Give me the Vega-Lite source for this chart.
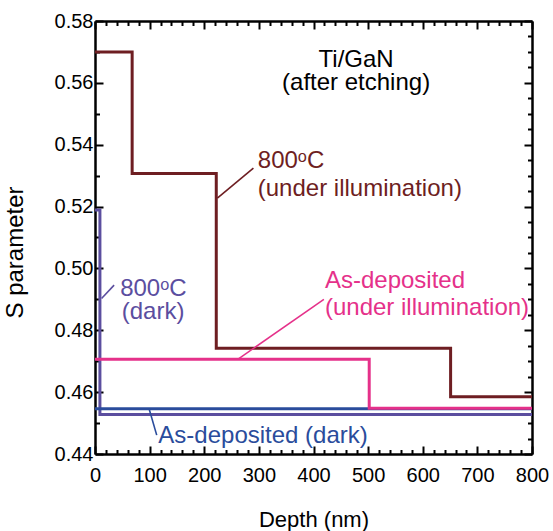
{
  "$schema": "https://vega.github.io/schema/vega-lite/v6.json",
  "autosize": "none",
  "width": 437,
  "height": 433,
  "padding": {"left": 95, "top": 21, "right": 21, "bottom": 77},
  "background": "white",
  "config": {
    "view": {"stroke": null},
    "font": "Liberation Sans",
    "axis": {"grid": false, "domainColor": "black", "domainWidth": 2.5, "tickColor": "black", "tickWidth": 2, "labelColor": "black", "titleColor": "black", "labelFont": "Liberation Sans", "titleFont": "Liberation Sans", "labelFontSize": 20, "titleFontSize": 22, "titleFontWeight": "normal"}
  },
  "datasets": {
    "series": [
      {"series": "a800dark", "depth": 0, "S": 0.5189},
      {"series": "a800dark", "depth": 9, "S": 0.4528},
      {"series": "a800dark", "depth": 800, "S": 0.4528},
      {"series": "asdepdark", "depth": 0, "S": 0.4546},
      {"series": "asdepdark", "depth": 800, "S": 0.4546},
      {"series": "asdepill", "depth": 0, "S": 0.4706},
      {"series": "asdepill", "depth": 502, "S": 0.4548},
      {"series": "asdepill", "depth": 800, "S": 0.4548},
      {"series": "a800ill", "depth": 0, "S": 0.5700},
      {"series": "a800ill", "depth": 68, "S": 0.5307},
      {"series": "a800ill", "depth": 222, "S": 0.4742},
      {"series": "a800ill", "depth": 651, "S": 0.4585},
      {"series": "a800ill", "depth": 800, "S": 0.4585}
    ],
    "leaders": [
      {"series": "a800ill", "x1": 290, "y1": 0.5324, "x2": 224, "y2": 0.5227},
      {"series": "asdepill", "x1": 419, "y1": 0.4900, "x2": 262, "y2": 0.4707},
      {"series": "a800dark", "x1": 35, "y1": 0.4946, "x2": 12, "y2": 0.4903},
      {"series": "asdepdark", "x1": 99, "y1": 0.4546, "x2": 113, "y2": 0.4461}
    ],
    "notes": [
      {"series": "a800ill", "x": 298, "y": 0.5326, "text": "800ᵒC"},
      {"series": "a800ill", "x": 298, "y": 0.5234, "text": "(under illumination)"},
      {"series": "asdepill", "x": 421, "y": 0.4936, "text": "As-deposited"},
      {"series": "asdepill", "x": 421, "y": 0.4849, "text": "(under illumination)"},
      {"series": "a800dark", "x": 46, "y": 0.4911, "text": "800ᵒC"},
      {"series": "a800dark", "x": 49, "y": 0.4837, "text": "(dark)"},
      {"series": "asdepdark", "x": 116, "y": 0.4435, "text": "As-deposited (dark)"}
    ],
    "heading": [
      {"x": 478, "y": 0.5652, "text": "Ti/GaN"},
      {"x": 478, "y": 0.5577, "text": "(after etching)"}
    ]
  },
  "resolve": {"axis": {"x": "independent", "y": "independent"}},
  "layer": [
    {
      "data": {"name": "series"},
      "mark": {"type": "line", "interpolate": "step-after", "strokeWidth": 3, "clip": true},
      "encoding": {
        "x": {"field": "depth", "type": "quantitative", "scale": {"domain": [0, 800], "nice": false, "zero": false},
          "axis": {"orient": "bottom", "title": "Depth (nm)", "values": [0,20,40,60,80,100,120,140,160,180,200,220,240,260,280,300,320,340,360,380,400,420,440,460,480,500,520,540,560,580,600,620,640,660,680,700,720,740,760,780,800],
            "labelExpr": "datum.value % 100 == 0 ? datum.label : ''", "tickSize": {"condition": {"test": "datum.value % 100 == 0", "value": -8}, "value": -4.5}, "labelPadding": 19, "titlePadding": 21, "labelFlush": false, "labelOverlap": false}},
        "y": {"field": "S", "type": "quantitative", "scale": {"domain": [0.44, 0.58], "nice": false, "zero": false},
          "axis": {"orient": "left", "title": "S parameter", "titleFontSize": 24, "titleY": 231, "values": [0.44,0.45,0.46,0.47,0.48,0.49,0.50,0.51,0.52,0.53,0.54,0.55,0.56,0.57,0.58], "format": ".2f",
            "labelExpr": "round(datum.value * 100) % 2 == 0 ? datum.label : ''", "tickSize": {"condition": {"test": "round(datum.value * 100) % 2 == 0", "value": -8}, "value": -4.5}, "labelPadding": 10, "titlePadding": 27, "labelFlush": false, "labelOverlap": false}},
        "color": {"field": "series", "type": "nominal", "scale": {"domain": ["a800ill", "asdepill", "a800dark", "asdepdark"], "range": ["#6e1e22", "#e5318a", "#5b4e9f", "#2a4c9c"]}, "legend": null},
        "order": {"field": "depth"},
        "detail": {"field": "series"}
      }
    },
    {
      "data": {"name": "series"},
      "mark": {"type": "point", "opacity": 0},
      "encoding": {
        "x": {"field": "depth", "type": "quantitative",
          "axis": {"orient": "top", "title": null, "labels": false, "values": [0,20,40,60,80,100,120,140,160,180,200,220,240,260,280,300,320,340,360,380,400,420,440,460,480,500,520,540,560,580,600,620,640,660,680,700,720,740,760,780,800],
            "tickSize": {"condition": {"test": "datum.value % 100 == 0", "value": -8}, "value": -4.5}}},
        "y": {"field": "S", "type": "quantitative",
          "axis": {"orient": "right", "title": null, "labels": false, "values": [0.44,0.445,0.45,0.455,0.46,0.465,0.47,0.475,0.48,0.485,0.49,0.495,0.50,0.505,0.51,0.515,0.52,0.525,0.53,0.535,0.54,0.545,0.55,0.555,0.56,0.565,0.57,0.575,0.58],
            "tickSize": {"condition": {"test": "round(datum.value * 1000) % 20 == 0", "value": -8}, "value": -4.5}}}
      }
    },
    {
      "data": {"name": "leaders"},
      "mark": {"type": "rule", "strokeWidth": 1.6},
      "encoding": {
        "x": {"field": "x1", "type": "quantitative", "axis": null},
        "y": {"field": "y1", "type": "quantitative", "axis": null},
        "x2": {"field": "x2"},
        "y2": {"field": "y2"},
        "color": {"field": "series", "type": "nominal", "legend": null}
      }
    },
    {
      "data": {"name": "notes"},
      "mark": {"type": "text", "align": "left", "baseline": "alphabetic", "fontSize": 24, "font": "Liberation Sans"},
      "encoding": {
        "x": {"field": "x", "type": "quantitative", "axis": null},
        "y": {"field": "y", "type": "quantitative", "axis": null},
        "text": {"field": "text"},
        "color": {"field": "series", "type": "nominal", "legend": null}
      }
    },
    {
      "data": {"name": "heading"},
      "mark": {"type": "text", "align": "center", "baseline": "alphabetic", "fontSize": 24, "font": "Liberation Sans", "color": "black"},
      "encoding": {
        "x": {"field": "x", "type": "quantitative", "axis": null},
        "y": {"field": "y", "type": "quantitative", "axis": null},
        "text": {"field": "text"}
      }
    }
  ]
}
